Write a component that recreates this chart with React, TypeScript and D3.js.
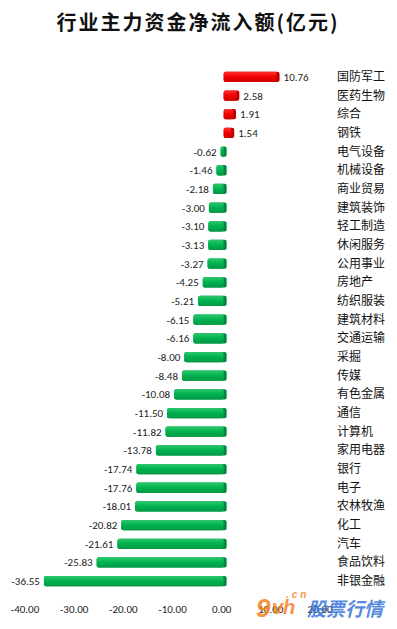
import React from "react";
import * as d3 from "d3";

const categories = ["国防军工","医药生物","综合","钢铁","电气设备","机械设备","商业贸易","建筑装饰","轻工制造","休闲服务","公用事业","房地产","纺织服装","建筑材料","交通运输","采掘","传媒","有色金属","通信","计算机","家用电器","银行","电子","农林牧渔","化工","汽车","食品饮料","非银金融"];
const values = [10.76,2.58,1.91,1.54,-0.62,-1.46,-2.18,-3.00,-3.10,-3.13,-3.27,-4.25,-5.21,-6.15,-6.16,-8.00,-8.48,-10.08,-11.50,-11.82,-13.78,-17.74,-17.76,-18.01,-20.82,-21.61,-25.83,-36.55];
const ticks = [-40,-30,-20,-10,0,10,20];

export default function App() {
  const W = 397, H = 629;
  const x = d3.scaleLinear().domain([-40, 20]).range([27, 322]);
  const y = d3.scaleBand().domain(categories).range([68, 590]).paddingInner(0.45).paddingOuter(0.2);
  const bh = y.bandwidth();
  const font = "Calibri, Carlito, 'Liberation Sans', 'Noto Sans CJK SC', sans-serif";
  return (
    <svg width={W} height={H} style={{ position: "absolute", left: 0, top: 0, background: "#fff" }}>
      <defs>
        <linearGradient id="gr" x1="0" y1="0" x2="0" y2="1">
          <stop offset="0" stopColor="#2bc96a" />
          <stop offset="0.5" stopColor="#00b050" />
          <stop offset="1" stopColor="#009a44" />
        </linearGradient>
        <linearGradient id="rd" x1="0" y1="0" x2="0" y2="1">
          <stop offset="0" stopColor="#ff3030" />
          <stop offset="0.5" stopColor="#f00000" />
          <stop offset="1" stopColor="#d00000" />
        </linearGradient>
      </defs>
      <text x={198} y={30} textAnchor="middle" fontFamily="'Noto Sans CJK SC', sans-serif" fontWeight="bold" fontSize={20} letterSpacing={2} fill="#111">行业主力资金净流入额(亿元)</text>
      {categories.map((c, i) => {
        const v = values[i];
        const yy = y(c)!;
        const x0 = x(0), x1 = x(v);
        const left = Math.min(x0, x1), w = Math.abs(x1 - x0);
        const pos = v >= 0;
        return (
          <g key={c}>
            <rect x={left} y={yy} width={w + 3} height={bh} rx={2} fill={pos ? "#c00000" : "#008a3c"} />
            <rect x={left} y={yy} width={w} height={bh} rx={2} fill={pos ? "url(#rd)" : "url(#gr)"} />
            <text x={pos ? x1 + 7 : x1 - 4} y={yy + bh / 2 + 4} textAnchor={pos ? "start" : "end"} fontFamily={font} fontSize={11} fill="#222">{v.toFixed(2)}</text>
            <text x={337} y={yy + bh / 2 + 4} fontFamily="'Noto Sans CJK SC', sans-serif" fontSize={12} fill="#111">{c}</text>
          </g>
        );
      })}
      {ticks.map(t => (
        <text key={t} x={x(t) - 2} y={613} textAnchor="middle" fontFamily={font} fontSize={11} fill="#222">{t.toFixed(2)}</text>
      ))}
      <g fontFamily="'Liberation Sans', sans-serif" fontWeight="bold" fontStyle="italic">
        <text x={256} y={617} fontSize={26} fill="#f5821f" opacity={0.85}>9</text>
        <text x={272} y={614} fontSize={20} fill="#f5821f" opacity={0.85}>vh</text>
        <text x={286} y={598} fontSize={10} fill="#f5821f" opacity={0.85} letterSpacing={3}>.cn</text>
      </g>
      <text x={307} y={616} fontFamily="'Noto Sans CJK SC', sans-serif" fontWeight="bold" fontSize={19} fill="#2f6fd6" opacity={0.8} fontStyle="italic">股票行情</text>
    </svg>
  );
}
